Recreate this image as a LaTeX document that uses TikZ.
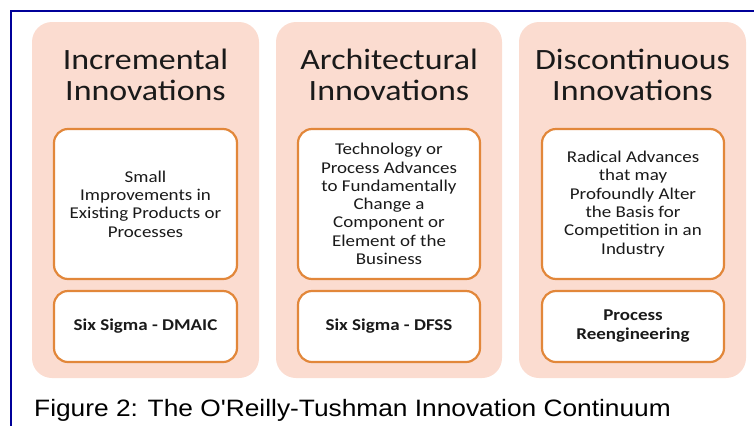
\documentclass[tikz,border=0pt]{standalone}
\usepackage{fontspec}
\setmainfont{Carlito}[FakeStretch=1.15]
\newfontfamily\capfont{Liberation Sans}[FakeStretch=1.11]
\definecolor{panelpink}{HTML}{FBDCD0}
\definecolor{boxorange}{HTML}{E2873A}
\definecolor{framenavy}{HTML}{000099}
\definecolor{txt}{HTML}{1A1A1A}
\tikzset{
  panel/.style={fill=panelpink, draw=none, rounded corners=20pt},
  innerbox/.style={fill=white, draw=boxorange, line width=2.2pt, rounded corners=14pt},
  title/.style={align=center, text=txt, font=\fontsize{29.5}{31}\selectfont, inner sep=0pt},
  body/.style={align=center, text=txt, font=\fontsize{16.5}{18.3}\selectfont, inner sep=0pt},
  bodybold/.style={align=center, text=txt, font=\fontsize{16.5}{18.3}\selectfont\bfseries, inner sep=0pt},
}
\begin{document}
\begin{tikzpicture}[x=1pt,y=-1pt]
\useasboundingbox (0,0) rectangle (754,426);
% frame
\coordinate (fr1) at (754,11);
\coordinate (fr2) at (11,11);
\coordinate (fr3) at (11,426);
\draw[framenavy, line width=1.6pt] (fr1) -- (fr2) -- (fr3);
% panels
\path[panel] (32,22) rectangle (259,378);
\path[panel] (276,22) rectangle (502,378);
\path[panel] (519,22) rectangle (746,378);
% inner boxes
\draw[innerbox] (54,129) rectangle (237,279);
\draw[innerbox] (298,129) rectangle (480,279);
\draw[innerbox] (542,129) rectangle (724,279);
\draw[innerbox] (54,291) rectangle (237,362);
\draw[innerbox] (298,291) rectangle (480,362);
\draw[innerbox] (542,291) rectangle (724,362);
% titles
\node[title] (t1) at (145.5,75) {Incremental\\Innovations};
\node[title] (t2) at (389,75) {Architectural\\Innovations};
\node[title] (t3) at (632.5,75) {Discontinuous\\Innovations};
% descriptions
\node[body] (d1) at (145.5,204) {Small\\Improvements in\\Existing Products or\\Processes};
\node[body] (d2) at (389,204) {Technology or\\Process Advances\\to Fundamentally\\Change a\\Component or\\Element of the\\Business};
\node[body] (d3) at (633,204) {Radical Advances\\that may\\Profoundly Alter\\the Basis for\\Competition in an\\Industry};
% methods
\node[bodybold] (m1) at (145.5,326) {Six Sigma - DMAIC};
\node[bodybold] (m2) at (389,326) {Six Sigma - DFSS};
\node[bodybold] (m3) at (633,326) {Process\\Reengineering};
% caption
\node[anchor=base west, inner sep=0pt, text=black, font=\capfont\fontsize{23.7}{26}\selectfont] (cap) at (34,416) {Figure 2: The O'Reilly-Tushman Innovation Continuum};
\end{tikzpicture}
\end{document}
